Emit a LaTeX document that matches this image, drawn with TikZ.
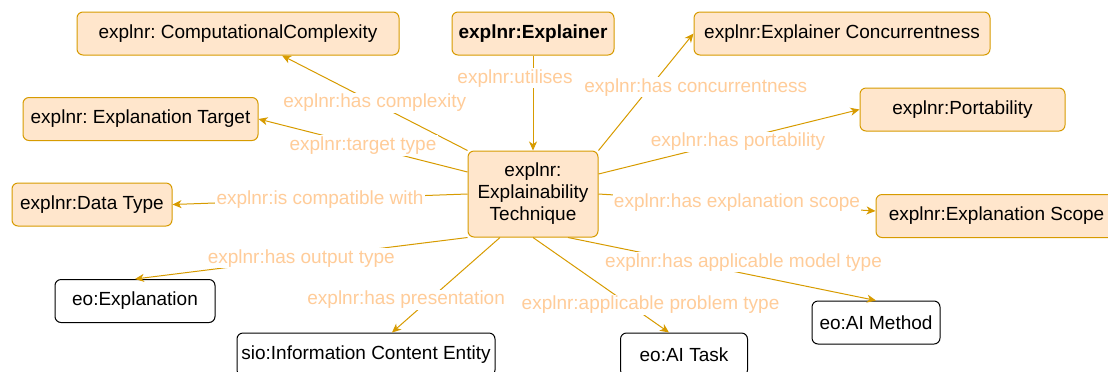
\documentclass[tikz,border=0pt]{standalone}
\usepackage{fontspec}
\setmainfont{Liberation Sans}
\usetikzlibrary{arrows.meta}
\frenchspacing
\definecolor{clsfill}{HTML}{FFE6CC}
\definecolor{clsdraw}{HTML}{D79B00}
\definecolor{lbltext}{HTML}{FFCC99}
\tikzset{
  cls/.style={draw=clsdraw, fill=clsfill, rounded corners=3pt, line width=0.5pt,
    inner sep=0pt, minimum height=21.5pt, font=\fontsize{9.5}{11}\selectfont, align=center},
  ext/.style={cls, draw=black, fill=white},
  rel/.style={draw=clsdraw, line width=0.5pt, -{Stealth[length=4.5pt,width=4pt,inset=1.3pt]}},
  lbl/.style={fill=white, text=lbltext, inner sep=0.6pt, font=\fontsize{9.5}{11}\selectfont}
}
\begin{document}
\begin{tikzpicture}[x=0.5pt,y=-0.5pt]  % ------ explainer ontology ---------------
    \useasboundingbox (0,0) rectangle (1108,371);
    \node[cls, minimum width=65pt, minimum height=43pt] (tech) at (533,194)
        {explnr:\\Explainability\\Technique};
    \node[cls, minimum width=81pt, font=\fontsize{9.5}{11}\selectfont\bfseries] (explainer) at (533,33.5) {explnr:Explainer};
    \node[cls, minimum width=161pt] (cc) at (238,33.5) {explnr: ComputationalComplexity};
    \node[cls, minimum width=117.5pt] (target) at (140.5,119) {explnr: Explanation Target};
    \node[cls, minimum width=80pt] (dtype) at (92,204.5) {explnr:Data Type};
    \node[cls, minimum width=148pt] (conc) at (842,33.5) {explnr:Explainer Concurrentness};
    \node[cls, minimum width=102.5pt] (port) at (962.5,109.5) {explnr:Portability};
    \node[cls, minimum width=120.5pt] (scope) at (996.5,216) {explnr:Explanation Scope};
    \node[ext, minimum width=80pt] (expl) at (135,301) {eo:Explanation};
    \node[ext, minimum width=129pt] (ice) at (366,354.5) {sio:Information Content Entity};
    \node[ext, minimum width=63.5pt] (task) at (684,354.5) {eo:AI Task};
    \node[ext, minimum width=64pt] (method) at (876,322.5) {eo:AI Method};

    % relations
    \draw[rel] (explainer) -- node[lbl, pos=.24, xshift=-9pt] {explnr:utilises} (tech);
    \draw[rel] (tech.north west) -- node[lbl, pos=.5] {explnr:has complexity} ([xshift=22pt]cc.south);
    \draw[rel] ([yshift=11pt]tech.west) -- node[lbl, pos=.5] {explnr:target type} (target.east);
    \draw[rel] (tech.west) -- node[lbl, pos=.5] {explnr:is compatible with} (dtype.east);
    \draw[rel] (tech.south west) -- node[lbl, pos=.5] {explnr:has output type} (expl.north);
    \draw[rel] ([xshift=-16.5pt]tech.south) -- node[lbl, pos=.656, xshift=-11.5pt] {explnr:has presentation} ([xshift=13pt]ice.north);
    \draw[rel] (tech.south) -- node[lbl, pos=.71, xshift=10.5pt] {explnr:applicable problem type} ([xshift=-7.5pt]task.north);
    \draw[rel] ([xshift=17.5pt]tech.south) -- node[lbl, pos=.57, yshift=5.5pt] {explnr:has applicable model type} (method.north);
    \draw[rel] (tech.east) -- node[lbl, pos=.5] {explnr:has explanation scope} ([yshift=2.5pt]scope.west);
    \draw[rel] ([yshift=10pt]tech.east) -- node[lbl, pos=.5, xshift=4.5pt] {explnr:has portability} (port.west);
    \draw[rel] (tech.north east) -- node[lbl, pos=.54, xshift=23pt] {explnr:has concurrentness} (conc.west);
\end{tikzpicture}
\end{document}
